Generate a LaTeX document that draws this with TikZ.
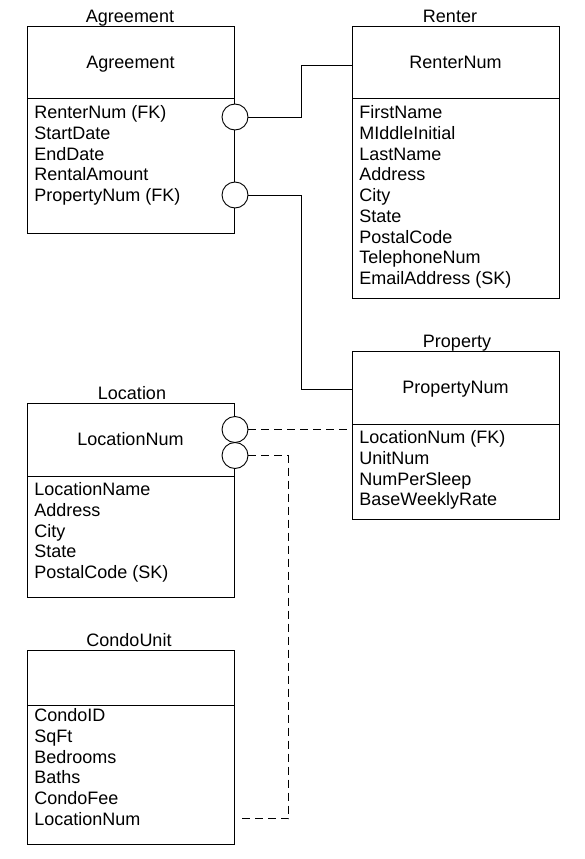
\documentclass[tikz,border=0pt]{standalone}
\usepackage{fontspec}
\setmainfont{Liberation Sans}
\begin{document}
\begin{tikzpicture}[x=1pt,y=-1pt,line width=0.9pt,
  every node/.style={font=\fontsize{18}{20.75}\selectfont},
  hdr/.style={draw,rectangle,minimum width=207pt,inner sep=0pt,outer sep=0pt,anchor=north,text height=12.5pt,text depth=0pt},
  bdy/.style={draw,rectangle,minimum width=207pt,inner sep=0pt,outer sep=0pt,anchor=north},
  attr/.style={anchor=base west,inner sep=0pt},
  ttl/.style={anchor=base,inner sep=0pt},
  conn/.style={draw,circle,fill=white,minimum size=26pt,inner sep=0pt},
  opt/.style={dash pattern=on 8pt off 5pt}]
\useasboundingbox[fill=white] (0,0) rectangle (585,859);

% Agreement
\node[hdr,minimum height=72pt] (agrH) at (130.5,26) {Agreement};
\node[bdy,minimum height=135pt] (agrB) at (agrH.south) {};
\node[ttl] (agrT) at (130,22.5) {Agreement};
\foreach \t [count=\i] in {RenterNum (FK),StartDate,EndDate,RentalAmount,PropertyNum (FK)}
  \node[attr,name=agr\i] at (34,{118.5+20.75*(\i-1)}) {\t};

% Renter
\node[hdr,minimum height=72pt] (renH) at (455.5,26) {RenterNum};
\node[bdy,minimum height=200pt] (renB) at (renH.south) {};
\node[ttl] (renT) at (450,22.5) {Renter};
\foreach \t [count=\i] in {FirstName,MIddleInitial,LastName,Address,City,State,PostalCode,TelephoneNum,EmailAddress (SK)}
  \node[attr,name=ren\i] at (359,{118.5+20.75*(\i-1)}) {\t};

% Property
\node[hdr,minimum height=73pt] (proH) at (455.5,351) {PropertyNum};
\node[bdy,minimum height=95pt] (proB) at (proH.south) {};
\node[ttl] (proT) at (457,347.5) {Property};
\foreach \t [count=\i] in {LocationNum (FK),UnitNum,NumPerSleep,BaseWeeklyRate}
  \node[attr,name=pro\i] at (359,{443.5+20.75*(\i-1)}) {\t};

% Location
\node[hdr,minimum height=73pt] (locH) at (130.5,403) {LocationNum};
\node[bdy,minimum height=121pt] (locB) at (locH.south) {};
\node[ttl] (locT) at (132,399.5) {Location};
\foreach \t [count=\i] in {LocationName,Address,City,State,PostalCode (SK)}
  \node[attr,name=loc\i] at (34,{495.5+20.75*(\i-1)}) {\t};

% CondoUnit
\node[hdr,minimum height=55pt] (cuH) at (130.5,650) {};
\node[bdy,minimum height=139pt] (cuB) at (cuH.south) {};
\node[ttl] (cuT) at (129,646.5) {CondoUnit};
\foreach \t [count=\i] in {CondoID,SqFt,Bedrooms,Baths,CondoFee,LocationNum}
  \node[attr,name=cu\i] at (34,{721.5+20.75*(\i-1)}) {\t};

% connector circles
\node[conn] (c1) at (235,117) {};
\node[conn] (c2) at (235,195) {};
\node[conn] (lc1) at (235,429.5) {};
\node[conn] (lc2) at (235,455.5) {};

% relationships
\draw (c1.east) -- ++(53,0) |- ([yshift=-3pt]renH.west);
\draw (c2.east) -- ++(53,0) |- ([yshift=-2pt]proH.west);
\draw[opt] (lc1.east) -- (lc1.east -| proB.west);
\coordinate (cuEnd) at ([xshift=6pt]cuB.east |- cu6.center);
\draw[opt] (lc2.east) -- ++(40,0) |- (cuEnd);
\end{tikzpicture}
\end{document}
